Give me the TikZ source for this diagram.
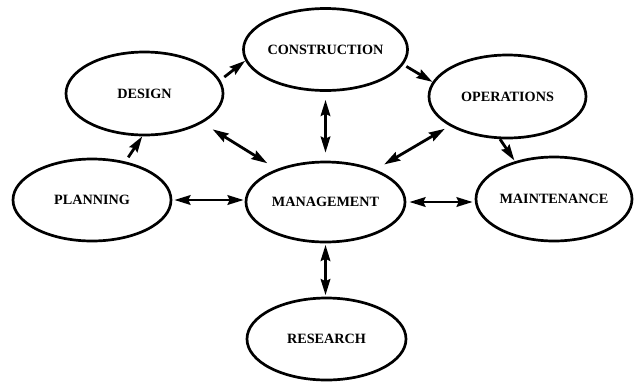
\documentclass[tikz,border=0pt]{standalone}
\usepackage{fontspec}
\setmainfont{Liberation Serif}
\usetikzlibrary{shapes.geometric,arrows.meta}
\begin{document}
\begin{tikzpicture}[x=1pt,y=-1pt,
  unit/.style={ellipse, draw, line width=2.7pt, inner sep=0pt,
    font=\bfseries\fontsize{14.2}{17}\selectfont},
  link/.style={line width=2.8pt, {Stealth[length=16pt,width=9.5pt,inset=2pt]}-{Stealth[length=16pt,width=9.5pt,inset=2pt]}},
  flow/.style={line width=2.8pt, -{Stealth[length=16pt,width=9.5pt,inset=2pt]}}]
\useasboundingbox (0,0) rectangle (636,381);

% the seven activity ellipses
\node[unit, minimum width=157pt, minimum height=83pt] (design) at (144.5,93.5) {DESIGN};
\node[unit, minimum width=159pt, minimum height=82pt] (construction) at (325.5,49.5) {CONSTRUCTION};
\node[unit, minimum width=157pt, minimum height=83pt] (operations) at (507.5,96.5) {OPERATIONS};
\node[unit, minimum width=158pt, minimum height=82pt] (planning) at (92,200) {PLANNING};
\node[unit, minimum width=159pt, minimum height=80pt] (management) at (325.5,202) {MANAGEMENT};
\node[unit, minimum width=156pt, minimum height=84pt] (maintenance) at (554,199) {MAINTENANCE};
\node[unit, minimum width=159pt, minimum height=82pt] (research) at (326.5,339) {RESEARCH};

% one-way flows around the life cycle
\draw[flow, shorten <=5pt] (planning.49) -- (design.267);
\draw[flow, shorten <=5pt] (design.10) -- (construction.188);
\draw[flow, shorten <=3.5pt] (construction.-11) -- (operations.169);
\draw[flow, shorten >=1pt] (operations.260) -- (maintenance.136.5);

% two-way links with management
\draw[link, shorten <=12pt, shorten >=11pt] (design.-27) -- (management.146);
\draw[link, shorten <=8pt, shorten >=8pt] (construction.south) -- (management.north);
\draw[link, shorten <=5.5pt, shorten >=10pt] (operations.207) -- (management.33);
\draw[link, shorten <=2pt, shorten >=1pt] (planning.east) -- (planning.east -| management.west);
\draw[link, shorten <=3pt, shorten >=2pt] (management.east) -- (management.east -| maintenance.west);
\draw[link, shorten <=1.5pt, shorten >=1.5pt] (management.south) -- (research.north -| management.south);
\end{tikzpicture}
\end{document}
